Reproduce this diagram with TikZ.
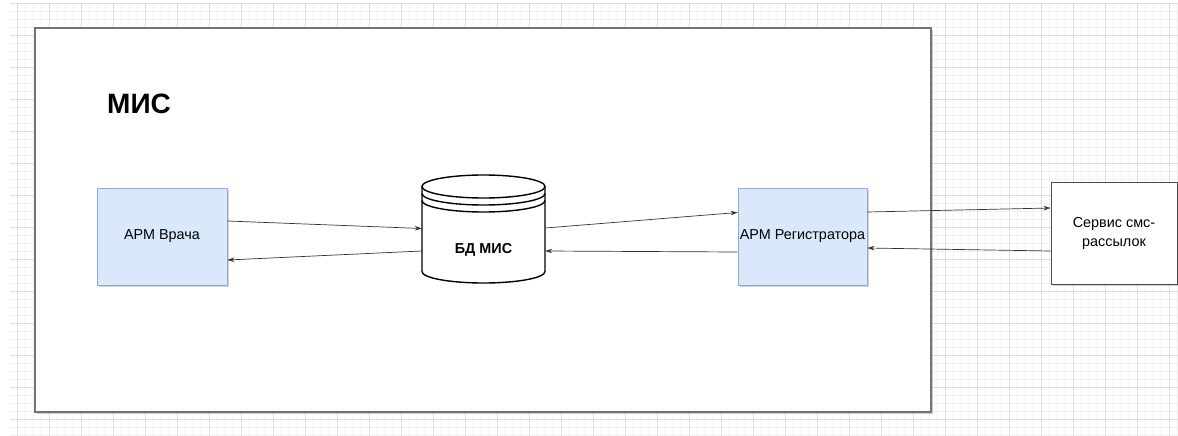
\documentclass[tikz,border=0pt]{standalone}
\usepackage{fontspec}
\setmainfont{Liberation Sans}
\usetikzlibrary{arrows.meta,shadows,calc}
\definecolor{gridminor}{HTML}{F1F1F1}
\definecolor{gridmajor}{HTML}{DDDDDD}
\definecolor{bluefill}{HTML}{DAE8FC}
\definecolor{bluestroke}{HTML}{8FAAD6}
\definecolor{arrowc}{HTML}{333333}
\tikzset{
  shad/.style={drop shadow={shadow xshift=2pt,shadow yshift=-2pt,fill=black,opacity=0.18}},
  bluebox/.style={draw=bluestroke,fill=bluefill,line width=0.8pt,minimum width=130pt,minimum height=97pt,inner sep=0pt,shad,font=\fontsize{14.4}{17}\selectfont},
  whitebox/.style={draw=black!70,fill=white,line width=0.9pt,minimum width=126pt,minimum height=102pt,inner sep=0pt,shad,align=center,font=\fontsize{14.4}{19}\selectfont},
  conn/.style={draw=arrowc,line width=0.7pt,-{Stealth[length=7pt,width=4.5pt]}},
}
\begin{document}
\begin{tikzpicture}[x=1pt,y=-1pt]
\useasboundingbox (0,0) rectangle (1178,436);
% grid
\begin{scope}
\clip (10,4) rectangle (1178,436);
\foreach \x in {1,9,...,1177} \draw[gridminor,line width=0.8pt] (\x,0) -- (\x,436);
\foreach \y in {3,11,...,435} \draw[gridminor,line width=0.8pt] (0,\y) -- (1178,\y);
\foreach \x in {17,49,...,1177} \draw[gridmajor,line width=0.8pt] (\x,0) -- (\x,436);
\foreach \y in {3,35,...,435} \draw[gridmajor,line width=0.8pt] (0,\y) -- (1178,\y);
\end{scope}
% outer container
\node[draw=black!55,fill=white,line width=1.1pt,minimum width=896pt,minimum height=384pt,inner sep=0pt,shad] (mis) at (483,220) {};
\node[anchor=base west,inner sep=0pt,font=\fontsize{28}{30}\selectfont\bfseries] (mistitle) at (107,113) {МИС};
% boxes
\node[bluebox] (vrach) at (162,236.5) {АРМ Врача};
\node[bluebox,minimum width=129pt] (reg) at (802.5,236.5) {АРМ Регистратора};
\node[whitebox] (serv) at (1114,233) {Сервис смс-\\рассылок};
% database
\node[minimum width=123pt,minimum height=108pt,inner sep=0pt] (db) at (483.5,229) {};
\begin{scope}[line width=1.4pt]
\fill[white] (422,186.5) -- (422,271.5) arc[start angle=180,end angle=360,x radius=61.5,y radius=-11.5] -- (545,186.5) arc[start angle=0,end angle=180,x radius=61.5,y radius=-11.5] -- cycle;
\draw (422,186.5) -- (422,271.5) arc[start angle=180,end angle=360,x radius=61.5,y radius=-11.5] -- (545,186.5);
\draw (483.5,186.5) ellipse[x radius=61.5,y radius=11.5];
\draw (422,193.5) arc[start angle=180,end angle=360,x radius=61.5,y radius=-11.5];
\draw (422,200.5) arc[start angle=180,end angle=360,x radius=61.5,y radius=-11.5];
\end{scope}
\node[font=\fontsize{14.4}{17}\selectfont\bfseries,inner sep=0pt] (dblabel) at ([yshift=-21pt]db.center) {БД МИС};
% connectors
\draw[conn] ([yshift=15.5pt]vrach.east) -- ([yshift=0.5pt]db.west);
\draw[conn] ([yshift=-22pt]db.west) -- ([yshift=-23.5pt]vrach.east);
\draw[conn] ([yshift=1pt]db.east) -- ([yshift=24pt]reg.west);
\draw[conn] ([yshift=-15.5pt]reg.west) -- ([yshift=-22pt]db.east);
\draw[conn] ([yshift=24.5pt]reg.east) -- ([yshift=25pt]serv.west);
\draw[conn] ([yshift=-18pt]serv.west) -- ([yshift=-11.5pt]reg.east);
\end{tikzpicture}
\end{document}
